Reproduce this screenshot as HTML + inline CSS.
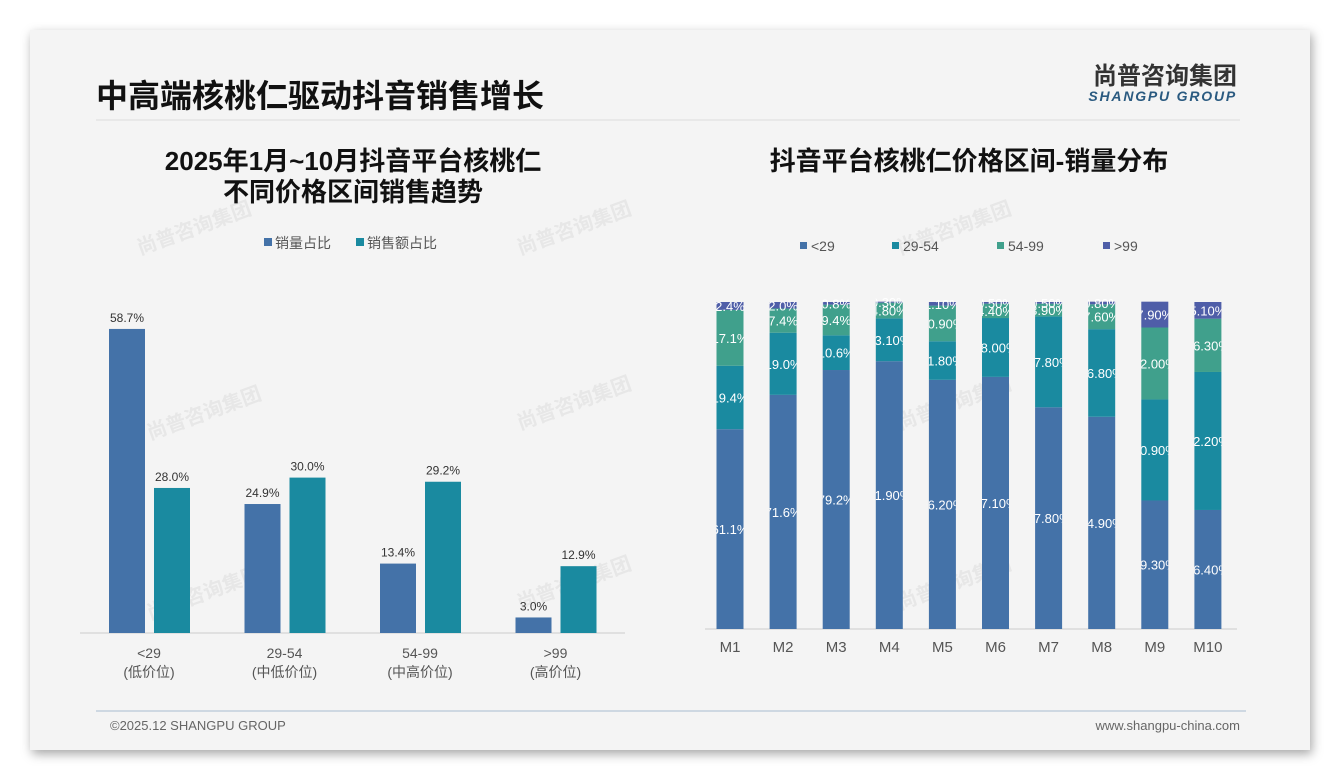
<!DOCTYPE html>
<html><head><meta charset="utf-8">
<style>
body{margin:0;width:1340px;height:780px;background:#fff;font-family:"Liberation Sans","Noto Sans CJK SC",sans-serif;overflow:hidden}
#card{position:absolute;left:30px;top:30px;width:1280px;height:720px;background:#f4f4f4;box-shadow:2px 4px 10px rgba(0,0,0,0.35)}
svg{position:absolute;left:0;top:0}
</style></head><body>
<div id="card"></div>
<svg width="1340" height="780">
<g font-family="Liberation Sans, Noto Sans CJK SC, sans-serif" fill="#dedede" font-size="20" font-weight="bold" opacity="0.6">
<text transform="translate(140,255) rotate(-20)">尚普咨询集团</text>
<text transform="translate(520,255) rotate(-20)">尚普咨询集团</text>
<text transform="translate(900,255) rotate(-20)">尚普咨询集团</text>
<text transform="translate(150,440) rotate(-20)">尚普咨询集团</text>
<text transform="translate(520,430) rotate(-20)">尚普咨询集团</text>
<text transform="translate(900,430) rotate(-20)">尚普咨询集团</text>
<text transform="translate(150,620) rotate(-20)">尚普咨询集团</text>
<text transform="translate(520,610) rotate(-20)">尚普咨询集团</text>
<text transform="translate(900,610) rotate(-20)">尚普咨询集团</text>
</g>
<text x="96" y="107" font-size="32" font-weight="bold" fill="#111">中高端核桃仁驱动抖音销售增长</text>
<line x1="96" y1="120" x2="1240" y2="120" stroke="#dcdcdc" stroke-width="1"/>
<text x="1237" y="84" text-anchor="end" font-size="24" font-weight="bold" fill="#333">尚普咨询集团</text>
<text x="1237" y="101" text-anchor="end" font-size="14" font-weight="bold" font-style="italic" fill="#2a5a80" letter-spacing="1.8">SHANGPU GROUP</text>
<text x="353" y="170" text-anchor="middle" font-size="26" font-weight="bold" fill="#111">2025年1月~10月抖音平台核桃仁</text>
<text x="353" y="201" text-anchor="middle" font-size="26" font-weight="bold" fill="#111">不同价格区间销售趋势</text>
<text x="969" y="170" text-anchor="middle" font-size="26" font-weight="bold" fill="#111">抖音平台核桃仁价格区间-销量分布</text>
<g id="left"></g>
<g id="right"></g>
<line x1="96" y1="711" x2="1246" y2="711" stroke="#b8c8d8" stroke-width="1.2"/>
<text x="110" y="730" font-size="13" fill="#666">©2025.12 SHANGPU GROUP</text>
<text x="1240" y="730" text-anchor="end" font-size="13" fill="#666">www.shangpu-china.com</text>
</svg>
<script>
const NS="http://www.w3.org/2000/svg";
function mk(p,t,a,txt){const e=document.createElementNS(NS,t);for(const k in a)e.setAttribute(k,a[k]);if(txt!==undefined)e.textContent=txt;p.appendChild(e);return e;}
// Left chart data
const leftCats=["<29","29-54","54-99",">99"];
const leftSub=["(低价位)","(中低价位)","(中高价位)","(高价位)"];
const volShare=[58.7,24.9,13.4,3.0];
const amtShare=[28.0,30.0,29.2,12.9];
// Right chart data
const months=["M1","M2","M3","M4","M5","M6","M7","M8","M9","M10"];
const s29=[61.1,71.6,79.2,81.9,76.2,77.1,67.8,64.9,39.3,36.4];
const s2954=[19.4,19.0,10.6,13.1,11.8,18.0,27.8,26.8,30.9,42.2];
const s5499=[17.1,7.4,9.4,4.8,10.9,4.4,3.9,7.6,22.0,16.3];
const s99=[2.4,2.0,0.8,0.3,1.1,0.5,0.5,0.8,7.9,5.1];
const labelDecimals=[1,1,1,2,2,2,2,2,2,2];

const L=document.getElementById('left');
const baseL=633, pxPer=5.18;
const yL=v=>baseL-v*pxPer;
const xL=i=>145+i*135.5;
let ax=mk(L,'line',{x1:80,y1:baseL,x2:625,y2:baseL,stroke:'#ccc'});

leftCats.forEach((c,i)=>{
  const cx=xL(i);
  let b=mk(L,'rect',{x:cx-36,y:yL(volShare[i]),width:36,height:volShare[i]*pxPer,fill:'#4472a8'});
  
  let t=mk(L,'text',{x:cx-18,y:yL(volShare[i])-7,'text-anchor':'middle','font-size':12,fill:'#333'},volShare[i].toFixed(1)+'%');
  
  b=mk(L,'rect',{x:cx+9,y:yL(amtShare[i]),width:36,height:amtShare[i]*pxPer,fill:'#1a8aa0'});
  
  t=mk(L,'text',{x:cx+27,y:yL(amtShare[i])-7,'text-anchor':'middle','font-size':12,fill:'#333'},amtShare[i].toFixed(1)+'%');
  
  t=mk(L,'text',{x:cx+4,y:658,'text-anchor':'middle','font-size':14,fill:'#555'},c);
  
  t=mk(L,'text',{x:cx+4,y:677,'text-anchor':'middle','font-size':14,fill:'#555'},leftSub[i]);
  
});
// left legend
[['销量占比','#4472a8',264],['销售额占比','#1a8aa0',356]].forEach(([n,c,x])=>{
  let r=mk(L,'rect',{x:x,y:238,width:8,height:8,fill:c});
  
  let t=mk(L,'text',{x:x+11,y:248,'font-size':14,fill:'#555'},n);
  
});

const R=document.getElementById('right');
const baseR=629, topR=302, hR=baseR-topR;
const yR=v=>baseR-v/100*hR;
const xR=i=>730+i*53.1;
const bw=27;
const series=[[s29,'#4472a8','<29'],[s2954,'#1a8aa0','29-54'],[s5499,'#40a08c','54-99'],[s99,'#4f5ea8','>99']];
ax=mk(R,'line',{x1:705,y1:baseR,x2:1237,y2:baseR,stroke:'#ccc'});

const defs=mk(R,'defs',{});
months.forEach((m,i)=>{
  const cx=xR(i);
  const cp=mk(defs,'clipPath',{id:'cp'+i});
  mk(cp,'rect',{x:cx-bw/2,y:0,width:bw,height:780});
  let cum=0;
  series.forEach(([arr,col,nm])=>{
    const v=arr[i];
    const y1=yR(cum+v), y0=yR(cum);
    let b=mk(R,'rect',{x:cx-bw/2,y:y1,width:bw,height:y0-y1,fill:col});
    
    let t=mk(R,'text',{x:cx,y:(y0+y1)/2+5,'text-anchor':'middle','font-size':13,fill:'#fff','clip-path':'url(#cp'+i+')'},v.toFixed(labelDecimals[i])+'%');
    
    cum+=v;
  });
  let t=mk(R,'text',{x:cx,y:652,'text-anchor':'middle','font-size':15,fill:'#555'},m);
  
});
[['<29','#4472a8',800],['29-54','#1a8aa0',892],['54-99','#40a08c',997],['>99','#4f5ea8',1103]].forEach(([n,c,x])=>{
  let r=mk(R,'rect',{x:x,y:242,width:7,height:7,fill:c});
  
  let t=mk(R,'text',{x:x+11,y:251,'font-size':14,fill:'#555'},n);
  
});
</script>
</body></html>
